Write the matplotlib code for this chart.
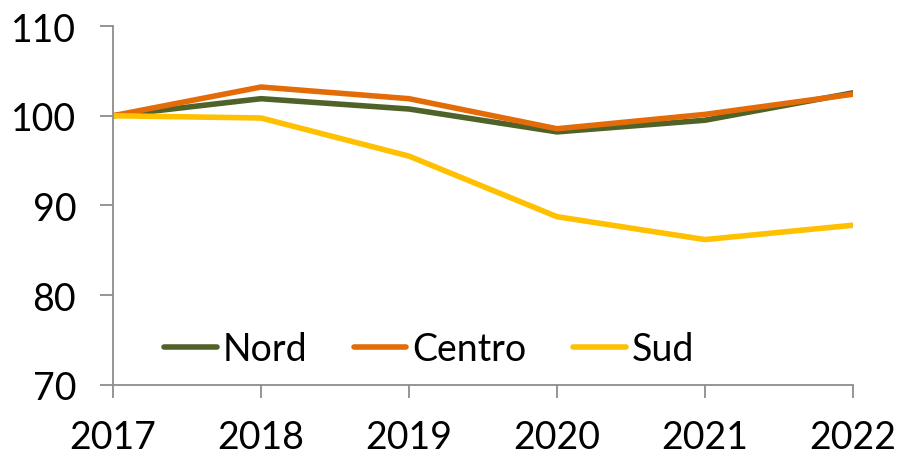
import matplotlib.pyplot as plt

years = [2017, 2018, 2019, 2020, 2021, 2022]
nord = [100, 101.9, 100.75, 98.2, 99.5, 102.55]
centro = [100, 103.2, 101.9, 98.55, 100.15, 102.4]
sud = [100, 99.75, 95.5, 88.75, 86.2, 87.8]

plt.rcParams['font.family'] = ['Lato', 'DejaVu Sans']

fig = plt.figure(figsize=(9.04, 4.60), dpi=100)
ax = fig.add_axes([0.125, 0.161, 0.8186, 0.7803])

ax.plot(years, nord, color='#4F6228', linewidth=4, label='Nord', solid_capstyle='round')
ax.plot(years, centro, color='#E36C09', linewidth=4, label='Centro', solid_capstyle='round')
ax.plot(years, sud, color='#FFC000', linewidth=4, label='Sud', solid_capstyle='round')

ax.set_xlim(2017, 2022)
ax.set_ylim(70, 110)
ax.set_xticks(years)
ax.set_yticks([70, 80, 90, 100, 110])

for side in ['top', 'right']:
    ax.spines[side].set_visible(False)
for side in ['left', 'bottom']:
    ax.spines[side].set_color('#8c8c8c')
    ax.spines[side].set_linewidth(1.3)

ax.tick_params(axis='both', colors='#8c8c8c', width=1.3, length=9.5, labelsize=27,
               labelcolor='black')
ax.tick_params(axis='x', pad=15)
ax.tick_params(axis='y', pad=17)

leg = ax.legend(loc='center', bbox_to_anchor=(0.427, 0.1), ncol=3, frameon=False,
                fontsize=27, handlelength=1.4, handletextpad=0.15, columnspacing=1.25)

fig.savefig('out.png', dpi=100)
